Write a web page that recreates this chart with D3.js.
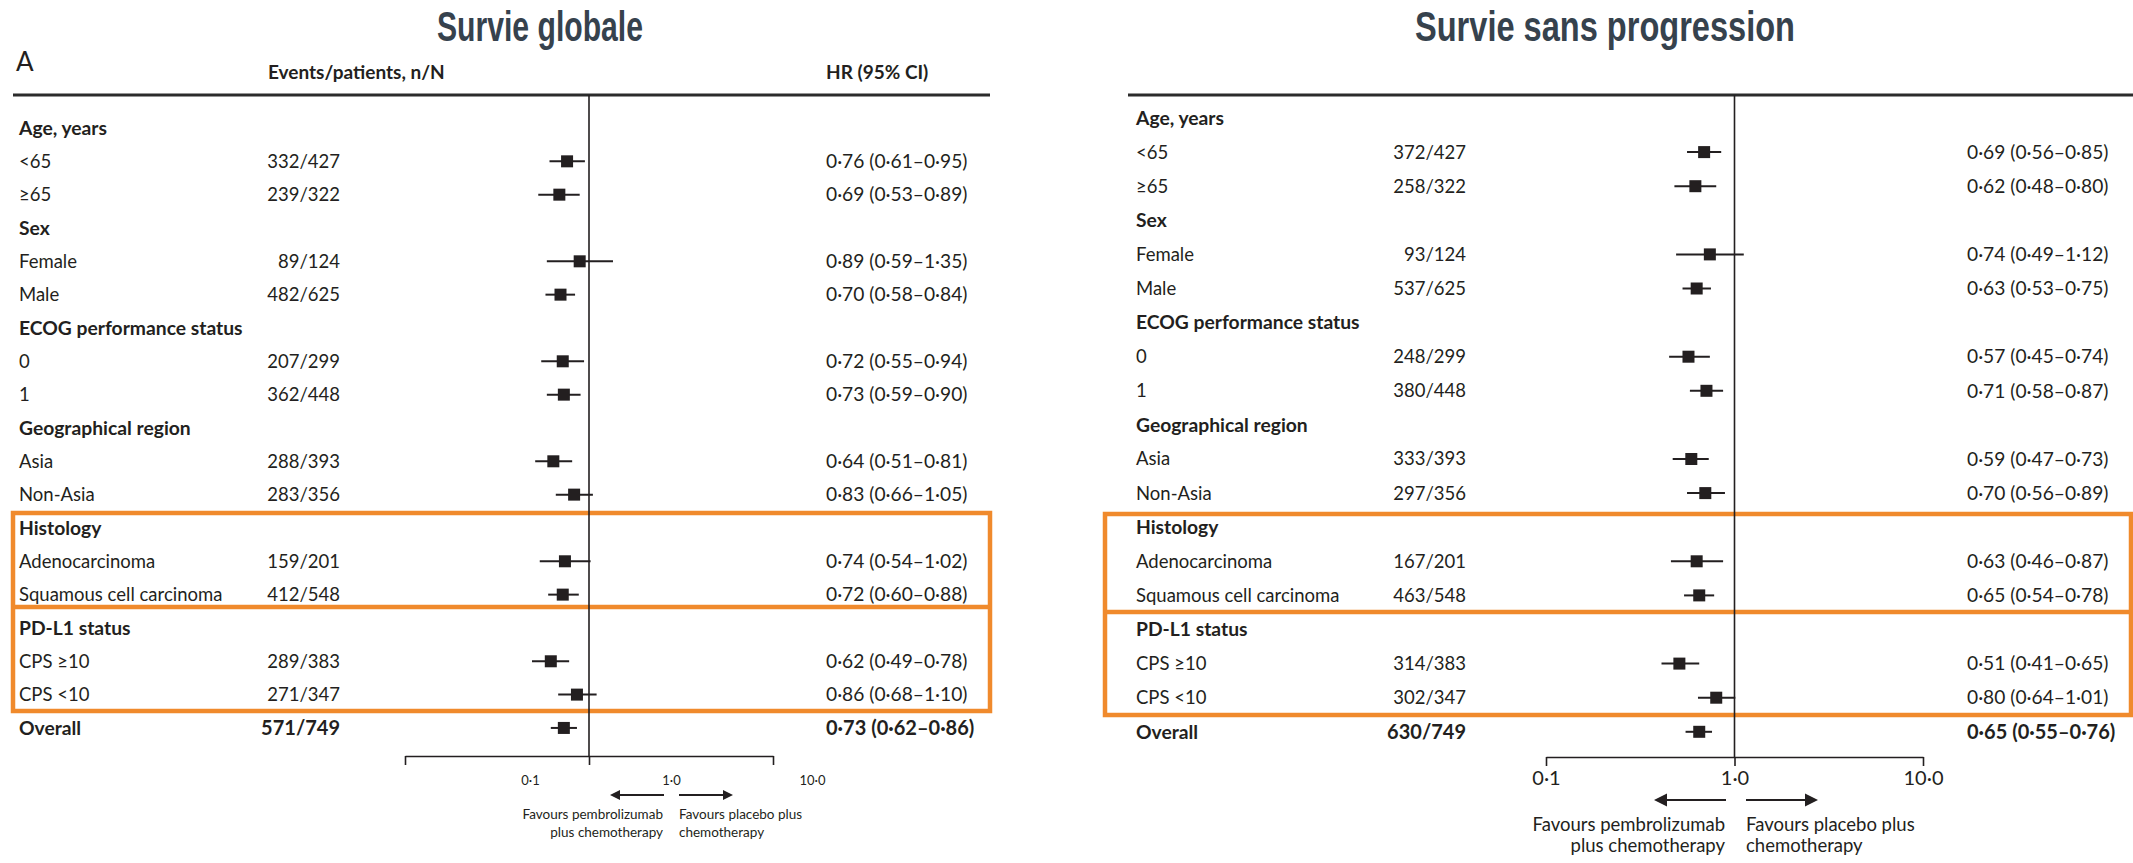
<!DOCTYPE html>
<html>
<head>
<meta charset="utf-8">
<script src="https://cdn.jsdelivr.net/npm/d3@7"></script>
<style>
body{margin:0;background:#fff}
text{font-family:Lato,"Open Sans",sans-serif;fill:#231f20}
.title{font-family:"Liberation Sans",Arial,sans-serif;font-weight:bold;font-size:42px;fill:#36424d}
</style>
</head>
<body>
<div id="chart"></div>
<script>
// rows, same order in both panels
const rowLabels = ["Age, years","<65","≥65","Sex","Female","Male","ECOG performance status","0","1",
  "Geographical region","Asia","Non-Asia","Histology","Adenocarcinoma","Squamous cell carcinoma",
  "PD-L1 status","CPS ≥10","CPS <10","Overall"]
const headerRows = [0,3,6,9,12,15,18]

// overall survival
const osEvents = ["","332/427","239/322","","89/124","482/625","","207/299","362/448","","288/393","283/356","","159/201","412/548","","289/383","271/347","571/749"]
const osHR = [null,0.76,0.69,null,0.89,0.70,null,0.72,0.73,null,0.64,0.83,null,0.74,0.72,null,0.62,0.86,0.73]
const osLo = [null,0.61,0.53,null,0.59,0.58,null,0.55,0.59,null,0.51,0.66,null,0.54,0.60,null,0.49,0.68,0.62]
const osHi = [null,0.95,0.89,null,1.35,0.84,null,0.94,0.90,null,0.81,1.05,null,1.02,0.88,null,0.78,1.10,0.86]

// progression-free survival
const pfsEvents = ["","372/427","258/322","","93/124","537/625","","248/299","380/448","","333/393","297/356","","167/201","463/548","","314/383","302/347","630/749"]
const pfsHR = [null,0.69,0.62,null,0.74,0.63,null,0.57,0.71,null,0.59,0.70,null,0.63,0.65,null,0.51,0.80,0.65]
const pfsLo = [null,0.56,0.48,null,0.49,0.53,null,0.45,0.58,null,0.47,0.56,null,0.46,0.54,null,0.41,0.64,0.55]
const pfsHi = [null,0.85,0.80,null,1.12,0.75,null,0.74,0.87,null,0.73,0.89,null,0.87,0.78,null,0.65,1.01,0.76]

const axisTicks = [0.1, 1, 10]
const titles = ["Survie globale", "Survie sans progression"]
const favLeft = ["Favours pembrolizumab", "plus chemotherapy"]
const favRight = ["Favours placebo plus", "chemotherapy"]

const orange = "#f08a2c"
const dot = v => d3.format(".2f")(v).replace(".", "·")
const tickFmt = v => d3.format(".1f")(v).replace(".", "·")

const svg = d3.select("#chart").append("svg").attr("width", 2133).attr("height", 863)

function createPanels(){
  return [
    {title: titles[0], titleX: 540, titleW: 206, labelX: 19, countX: 340, hrX: 826, rowTop: 128, rowStep: 33.33,
     x0: 405, x1: 773, lineX0: 13, lineX1: 990, axisY: 756, tickFont: 13, labelRange: [530, 812],
     arrowCx: 671, gapL: 7, gapR: 8, arrowLen: 54, head: 10, arrowY: 795, favY: 819, favDy: 18, favFont: 13.5,
     box: {x0: 13, x1: 990, top: 513, mid: 607, bottom: 711}, header: true,
     events: osEvents, hr: osHR, lo: osLo, hi: osHi},
    {title: titles[1], titleX: 1605, titleW: 380, labelX: 1136, countX: 1466, hrX: 1967, rowTop: 118, rowStep: 34.1,
     x0: 1546, x1: 1923, lineX0: 1128, lineX1: 2133, axisY: 757, tickFont: 20, labelRange: null,
     arrowCx: 1736, gapL: 10, gapR: 10, arrowLen: 72, head: 13, arrowY: 800, favY: 831, favDy: 20.5, favFont: 18.5,
     box: {x0: 1105, x1: 2131, top: 514, mid: 612, bottom: 715}, header: false,
     events: pfsEvents, hr: pfsHR, lo: pfsLo, hi: pfsHi}
  ]
}

function drawPanel(p){
  const g = svg.append("g")
  const x = d3.scaleLog().domain([0.1, 10]).range([p.x0, p.x1])
  const y = d3.scaleLinear().domain([0, rowLabels.length - 1])
    .range([p.rowTop, p.rowTop + (rowLabels.length - 1) * p.rowStep])
  const topY = 95

  g.append("text").attr("class", "title").attr("x", p.titleX).attr("y", 41)
    .attr("text-anchor", "middle").attr("textLength", p.titleW).attr("lengthAdjust", "spacingAndGlyphs")
    .text(p.title)

  if(p.header){
    g.append("text").attr("x", 16).attr("y", 71).style("font-size", "26px").text("A")
    g.append("text").attr("x", 268).attr("y", 79).style("font-size", "19px").style("font-weight", 700)
      .text("Events/patients, n/N")
    g.append("text").attr("x", p.hrX).attr("y", 79).style("font-size", "19px").style("font-weight", 700)
      .text("HR (95% CI)")
  }

  // orange highlight boxes
  const b = p.box
  g.append("rect").attr("x", b.x0).attr("y", b.top).attr("width", b.x1 - b.x0).attr("height", b.bottom - b.top)
    .attr("fill", "none").attr("stroke", orange).attr("stroke-width", 4.5)
  g.append("line").attr("x1", b.x0).attr("x2", b.x1).attr("y1", b.mid).attr("y2", b.mid)
    .attr("stroke", orange).attr("stroke-width", 4.5)

  g.append("line").attr("x1", p.lineX0).attr("x2", p.lineX1).attr("y1", topY).attr("y2", topY)
    .attr("stroke", "#2b2b2b").attr("stroke-width", 3)
  g.append("line").attr("x1", x(1)).attr("x2", x(1)).attr("y1", topY).attr("y2", p.axisY)
    .attr("stroke", "#231f20").attr("stroke-width", 1.6)

  const rows = rowLabels.map((label, i) => ({label, i, head: headerRows.includes(i),
    ev: p.events[i], hr: p.hr[i], lo: p.lo[i], hi: p.hi[i]}))
  const isOverall = d => d.i === rowLabels.length - 1

  g.selectAll(".lab").data(rows).join("text").attr("class", "lab")
    .attr("x", p.labelX).attr("y", d => y(d.i)).attr("dy", "0.35em")
    .style("font-size", d => d.head ? "19.3px" : "18.5px").style("font-weight", d => d.head ? 700 : 400)
    .text(d => d.label)

  const stats = rows.filter(d => d.hr !== null)

  g.selectAll(".ev").data(stats).join("text").attr("class", "ev")
    .attr("x", p.countX).attr("y", d => y(d.i)).attr("dy", "0.35em").attr("text-anchor", "end")
    .style("font-size", d => isOverall(d) ? "20px" : "18.5px").style("font-weight", d => isOverall(d) ? 700 : 400)
    .text(d => d.ev)

  g.selectAll(".hrt").data(stats).join("text").attr("class", "hrt")
    .attr("x", p.hrX).attr("y", d => y(d.i)).attr("dy", "0.35em")
    .style("font-size", d => isOverall(d) ? "20px" : "19.2px").style("font-weight", d => isOverall(d) ? 700 : 400)
    .text(d => `${dot(d.hr)} (${dot(d.lo)}–${dot(d.hi)})`)

  g.selectAll(".ci").data(stats).join("line").attr("class", "ci")
    .attr("x1", d => x(d.lo)).attr("x2", d => x(d.hi)).attr("y1", d => y(d.i)).attr("y2", d => y(d.i))
    .attr("stroke", "#231f20").attr("stroke-width", 2)

  const s = 12
  g.selectAll(".pt").data(stats).join("rect").attr("class", "pt")
    .attr("x", d => x(d.hr) - s / 2).attr("y", d => y(d.i) - s / 2).attr("width", s).attr("height", s)
    .attr("fill", "#231f20")

  // axis
  const ax = g.append("g").attr("transform", `translate(0,${p.axisY})`)
    .call(d3.axisBottom(x).tickValues(axisTicks).tickSize(9).tickSizeOuter(0).tickFormat(tickFmt))
  ax.select(".domain").attr("stroke", "#231f20").attr("stroke-width", 1.6)
  ax.selectAll(".tick line").attr("stroke", "#231f20").attr("stroke-width", 1.6)
  ax.selectAll(".tick text").attr("y", 14).style("font-family", "Lato,sans-serif")
    .style("font-size", p.tickFont + "px").attr("fill", "#231f20")

  if(p.labelRange){
    // tick labels in the reference sit off their ticks on this panel
    ax.selectAll(".tick text").remove()
    const xl = d3.scaleLog().domain([0.1, 10]).range(p.labelRange)
    const la = g.append("g").attr("transform", `translate(0,${p.axisY})`)
      .call(d3.axisBottom(xl).tickValues(axisTicks).tickSize(0).tickFormat(tickFmt))
    la.select(".domain").remove()
    la.selectAll(".tick text").attr("y", 20).style("font-family", "Lato,sans-serif")
      .style("font-size", p.tickFont + "px").attr("fill", "#231f20")
  }

  // direction arrows
  const aL0 = p.arrowCx - p.gapL, aR0 = p.arrowCx + p.gapR, h = p.head, ay = p.arrowY
  g.append("line").attr("x1", aL0).attr("x2", aL0 - p.arrowLen + h).attr("y1", ay).attr("y2", ay)
    .attr("stroke", "#231f20").attr("stroke-width", 2)
  g.append("path").attr("d", `M${aL0 - p.arrowLen},${ay} L${aL0 - p.arrowLen + h},${ay - h * 0.5} L${aL0 - p.arrowLen + h},${ay + h * 0.5} Z`)
    .attr("fill", "#231f20")
  g.append("line").attr("x1", aR0).attr("x2", aR0 + p.arrowLen - h).attr("y1", ay).attr("y2", ay)
    .attr("stroke", "#231f20").attr("stroke-width", 2)
  g.append("path").attr("d", `M${aR0 + p.arrowLen},${ay} L${aR0 + p.arrowLen - h},${ay - h * 0.5} L${aR0 + p.arrowLen - h},${ay + h * 0.5} Z`)
    .attr("fill", "#231f20")

  favLeft.forEach((t, k) => g.append("text").attr("x", aL0 - 1).attr("y", p.favY + k * p.favDy)
    .attr("text-anchor", "end").style("font-size", p.favFont + "px").text(t))
  favRight.forEach((t, k) => g.append("text").attr("x", aR0).attr("y", p.favY + k * p.favDy)
    .style("font-size", p.favFont + "px").text(t))
}

createPanels().forEach(drawPanel)
</script>
</body>
</html>
